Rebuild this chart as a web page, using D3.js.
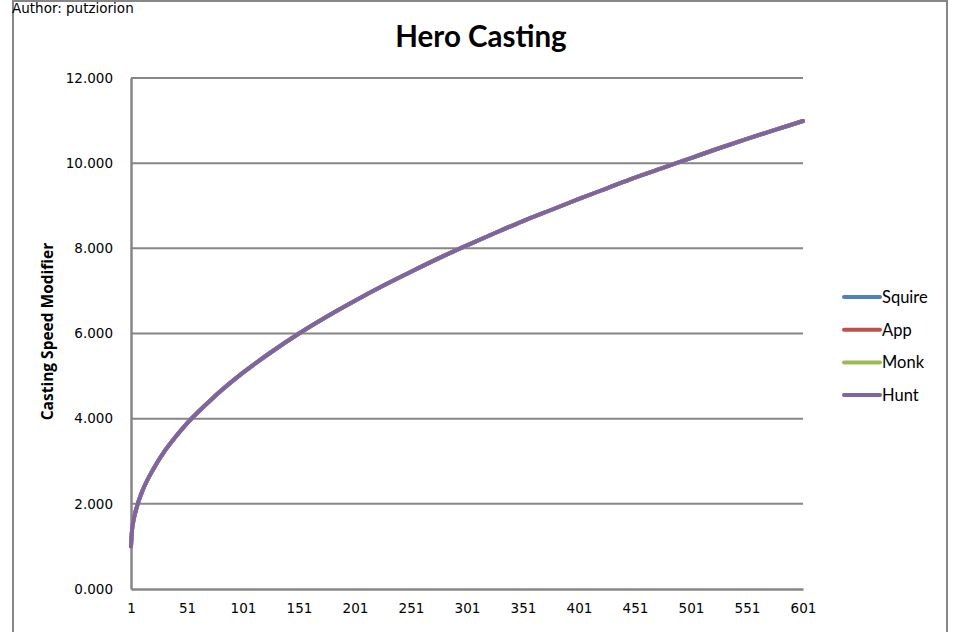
<!DOCTYPE html>
<html><head><meta charset="utf-8">
<script src="https://cdn.jsdelivr.net/npm/d3@7"></script>
<style>
body{margin:0;background:#fff;}
svg{display:block;}
</style></head>
<body>
<svg id="c" width="956" height="632"></svg>
<script>
const levels = [1, 2, 3, 6, 11, 21, 31, 41, 51, 76, 101, 126, 151, 176, 201, 226, 251, 276, 301, 326, 351, 376, 401, 426, 451, 476, 501, 526, 551, 576, 601];
const squire = [1.00, 1.41, 1.58, 1.91, 2.29, 2.82, 3.24, 3.58, 3.89, 4.53, 5.08, 5.56, 6.00, 6.40, 6.77, 7.12, 7.45, 7.77, 8.07, 8.36, 8.64, 8.90, 9.16, 9.41, 9.66, 9.89, 10.12, 10.35, 10.57, 10.78, 10.99];
const app    = [1.00, 1.41, 1.58, 1.91, 2.29, 2.82, 3.24, 3.58, 3.89, 4.53, 5.08, 5.56, 6.00, 6.40, 6.77, 7.12, 7.45, 7.77, 8.07, 8.36, 8.64, 8.90, 9.16, 9.41, 9.66, 9.89, 10.12, 10.35, 10.57, 10.78, 10.99];
const monk   = [1.00, 1.41, 1.58, 1.91, 2.29, 2.82, 3.24, 3.58, 3.89, 4.53, 5.08, 5.56, 6.00, 6.40, 6.77, 7.12, 7.45, 7.77, 8.07, 8.36, 8.64, 8.90, 9.16, 9.41, 9.66, 9.89, 10.12, 10.35, 10.57, 10.78, 10.99];
const hunt   = [1.00, 1.41, 1.58, 1.91, 2.29, 2.82, 3.24, 3.58, 3.89, 4.53, 5.08, 5.56, 6.00, 6.40, 6.77, 7.12, 7.45, 7.77, 8.07, 8.36, 8.64, 8.90, 9.16, 9.41, 9.66, 9.89, 10.12, 10.35, 10.57, 10.78, 10.99];
const seriesNames = ["Squire", "App", "Monk", "Hunt"];
const seriesColors = ["#4F81BD", "#C0504D", "#9BBB59", "#8064A2"];
const xTicks = [1, 51, 101, 151, 201, 251, 301, 351, 401, 451, 501, 551, 601];
const yTicks = [0, 2, 4, 6, 8, 10, 12];

const seriesData = [squire, app, monk, hunt];
const svg = d3.select("#c");
const L = 131, R = 803, T = 78, B = 589;
const x = d3.scaleLinear().domain([1, 601]).range([L, R]);
const y = d3.scaleLinear().domain([0, 12]).range([B, T]);
const grey = "#868686";

// outer frame
svg.append("rect").attr("x", 13).attr("y", 1).attr("width", 934).attr("height", 640)
  .attr("fill", "none").attr("stroke", grey).attr("stroke-width", 2);

// author
svg.append("text").attr("x", 12).attr("y", 13).attr("font-family", "DejaVu Sans")
  .attr("font-size", 13.5).attr("fill", "#000").text("Author: putziorion");

// title
svg.append("text").attr("x", 481).attr("y", 47).attr("text-anchor", "middle")
  .attr("font-family", "Lato, 'Open Sans', sans-serif").attr("font-weight", "bold")
  .attr("font-size", 29.5).attr("fill", "#000").text("Hero Casting");

// gridlines
svg.append("g").selectAll("line").data(yTicks.filter(d => d > 0)).join("line")
  .attr("x1", L).attr("x2", R).attr("y1", d => y(d)).attr("y2", d => y(d))
  .attr("stroke", grey).attr("stroke-width", 2);

// axes
const yAxis = d3.axisLeft(y).tickValues(yTicks).tickFormat(d3.format(".3f")).tickSize(0).tickPadding(18);
const gy = svg.append("g").attr("transform", `translate(${L},0)`).call(yAxis);
gy.select(".domain").attr("stroke", grey).attr("stroke-width", 2.5);
gy.selectAll("text").attr("font-family", "DejaVu Sans").attr("font-size", 13.5).attr("fill", "#000");

const xAxis = d3.axisBottom(x).tickValues(xTicks).tickFormat(d => d).tickSize(0).tickPadding(14);
const gx = svg.append("g").attr("transform", `translate(0,${B})`).call(xAxis);
gx.select(".domain").attr("stroke", grey).attr("stroke-width", 2.5);
gx.selectAll("text").attr("font-family", "DejaVu Sans").attr("font-size", 13.5).attr("fill", "#000");

// y title
svg.append("text").attr("transform", "translate(53,331.5) rotate(-90)").attr("text-anchor", "middle")
  .attr("font-family", "'Open Sans', sans-serif").attr("font-weight", "bold")
  .attr("font-size", 15.5).attr("fill", "#000").text("Casting Speed Modifier");

// lines
const line = d3.line().x((d, i) => x(levels[i])).y(d => y(d)).curve(d3.curveMonotoneX);
seriesData.forEach((s, k) => {
  svg.append("path").datum(s).attr("d", line).attr("fill", "none")
    .attr("stroke", seriesColors[k]).attr("stroke-width", 4).attr("stroke-linecap", "round");
});

// legend
const lg = svg.append("g");
seriesNames.forEach((n, k) => {
  const yy = 297 + k * 32.7;
  lg.append("line").attr("x1", 844).attr("x2", 880).attr("y1", yy).attr("y2", yy)
    .attr("stroke", seriesColors[k]).attr("stroke-width", 4).attr("stroke-linecap", "round");
  lg.append("text").attr("x", 882).attr("y", yy + 6).attr("font-family", "Lato, 'Open Sans', sans-serif")
    .attr("font-size", 16.5).attr("fill", "#000").text(n);
});
</script>
</body></html>
